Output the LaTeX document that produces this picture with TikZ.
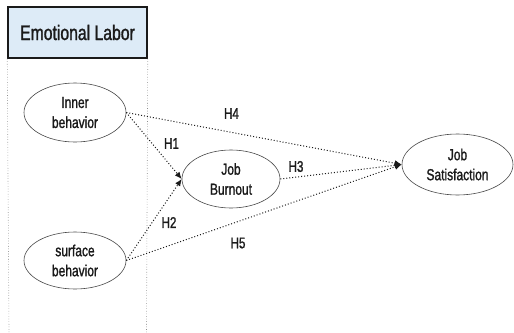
\documentclass[tikz,border=0pt]{standalone}
\usepackage{fontspec}
\setmainfont[FakeStretch=0.75,FakeBold=1.2,AutoFakeBold=1.2]{Liberation Sans}
\usetikzlibrary{arrows.meta,shapes.geometric}
\definecolor{hdrfill}{HTML}{DDEBF7}
\definecolor{ink}{HTML}{1A1A1A}
\tikzset{
  oval/.style={ellipse,draw=ink!80,line width=0.6pt,inner sep=0pt,align=center,
    font=\fontsize{16}{20}\selectfont,text=ink},
  hyp/.style={font=\fontsize{15.5}{18}\selectfont,text=ink},
  link/.style={draw=ink,line width=1pt,dotted,-{Latex[length=7pt,width=6pt]}},
  sep/.style={draw=gray,line width=0.6pt,dotted}
}
\begin{document}
\begin{tikzpicture}[x=1pt,y=-1pt]
\useasboundingbox (0,0) rectangle (514,332);
\node[draw=ink,line width=1.5pt,fill=hdrfill,minimum width=139pt,minimum height=51pt,inner sep=0pt,
  font=\fontsize{21}{24}\selectfont,text=ink] (hdr) at (77.5,32.5) {Emotional Labor};
\coordinate (b1) at (9,332);
\coordinate (b2) at (146.5,332);
\draw[sep] (hdr.south west) -- (b1);
\draw[sep] (hdr.south east) -- (b2);
\node[oval,minimum width=102pt,minimum height=59pt] (inner) at (75,112.5) {Inner\\behavior};
\node[oval,minimum width=102pt,minimum height=57pt] (surf) at (75,260.5) {surface\\behavior};
\node[oval,minimum width=98pt,minimum height=58pt] (burn) at (231,179) {Job\\Burnout};
\node[oval,minimum width=111pt,minimum height=61pt] (sat) at (457.5,164.5) {Job\\Satisfaction};
\draw[link] (inner.east) -- (burn.west);
\draw[link] (surf.east) -- (burn.west);
\draw[link] (inner.east) -- (sat.west);
\draw[link] (burn.east) -- (sat.west);
\draw[link] (surf.east) -- (sat.west);
\node[hyp] (h4) at (231.5,113.5) {H4};
\node[hyp] (h1) at (171.5,143.5) {H1};
\node[hyp] (h3) at (296,166.5) {H3};
\node[hyp] (h2) at (169,222.5) {H2};
\node[hyp] (h5) at (238,243) {H5};
\end{tikzpicture}
\end{document}
